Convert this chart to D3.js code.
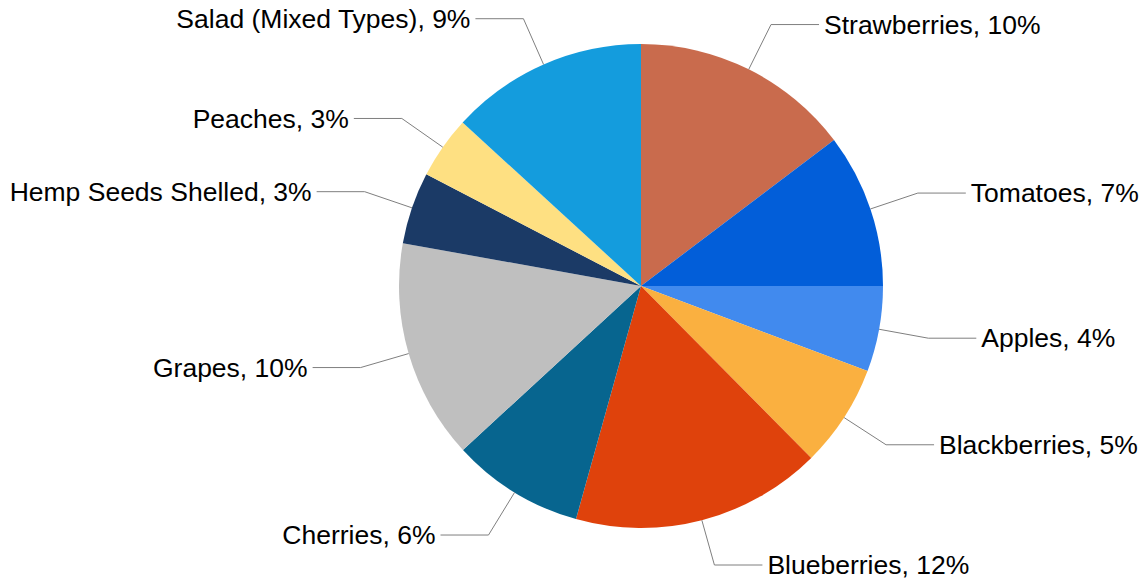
<!DOCTYPE html>
<html>
<head>
<meta charset="utf-8">
<script src="https://cdn.jsdelivr.net/npm/d3@7"></script>
<style>
  body { margin: 0; background: #fff; }
  text { font-family: "Liberation Sans", Arial, sans-serif; }
</style>
</head>
<body>
<svg id="chart" width="1146" height="581"></svg>
<script>
// slice data, clockwise from 12 o'clock
const categories = ['Strawberries', 'Tomatoes', 'Apples', 'Blackberries', 'Blueberries',
    'Cherries', 'Grapes', 'Hemp Seeds Shelled', 'Peaches', 'Salad (Mixed Types)'];
const shares = [14.69, 10.31, 5.72, 6.86, 16.75, 8.83, 14.67, 4.81, 4.17, 13.19];
const labelPercents = [10, 7, 4, 5, 12, 6, 10, 3, 3, 9];
const colors = ['#c96b4d', '#025ed9', '#418aee', '#fab040', '#df420c',
    '#07658f', '#bfbfbf', '#1b3a66', '#fee082', '#149cdd'];

const svg = d3.select('#chart');
const cx = 641, cy = 286, radius = 242;
const elbowR = radius + 50, hLen = 48, gap = 5;
const maxLabelY = 565 - cy; // keep bottom label inside the frame

const data = categories.map((c, i) => ({ name: c, value: shares[i], pct: labelPercents[i], color: colors[i] }));

const pie = d3.pie().sort(null).value(d => d.value);
const arc = d3.arc().innerRadius(0).outerRadius(radius);
const arcs = pie(data);

const g = svg.append('g').attr('transform', `translate(${cx},${cy})`);

g.selectAll('path.slice')
    .data(arcs)
    .join('path')
    .attr('class', 'slice')
    .attr('d', arc)
    .attr('fill', d => d.data.color);

// leader lines + labels
const pt = (a, r) => [r * Math.sin(a), -r * Math.cos(a)];

arcs.forEach(d => {
    const mid = (d.startAngle + d.endAngle) / 2;
    const p0 = pt(mid, radius);
    let p1 = pt(mid, elbowR);
    if (p1[1] > maxLabelY) p1 = [p1[0], maxLabelY];
    const right = Math.sin(mid) >= 0;
    const p2 = [p1[0] + (right ? hLen : -hLen), p1[1]];

    g.append('polyline')
        .attr('points', [p0, p1, p2].map(p => p.join(',')).join(' '))
        .attr('fill', 'none')
        .attr('stroke', '#7f7f7f')
        .attr('stroke-width', 1);

    g.append('text')
        .attr('x', p2[0] + (right ? gap : -gap))
        .attr('y', p2[1])
        .attr('dy', '0.35em')
        .attr('text-anchor', right ? 'start' : 'end')
        .attr('font-size', '26.5px')
        .attr('fill', '#000')
        .text(`${d.data.name}, ${d.data.pct}%`);
});
</script>
</body>
</html>
